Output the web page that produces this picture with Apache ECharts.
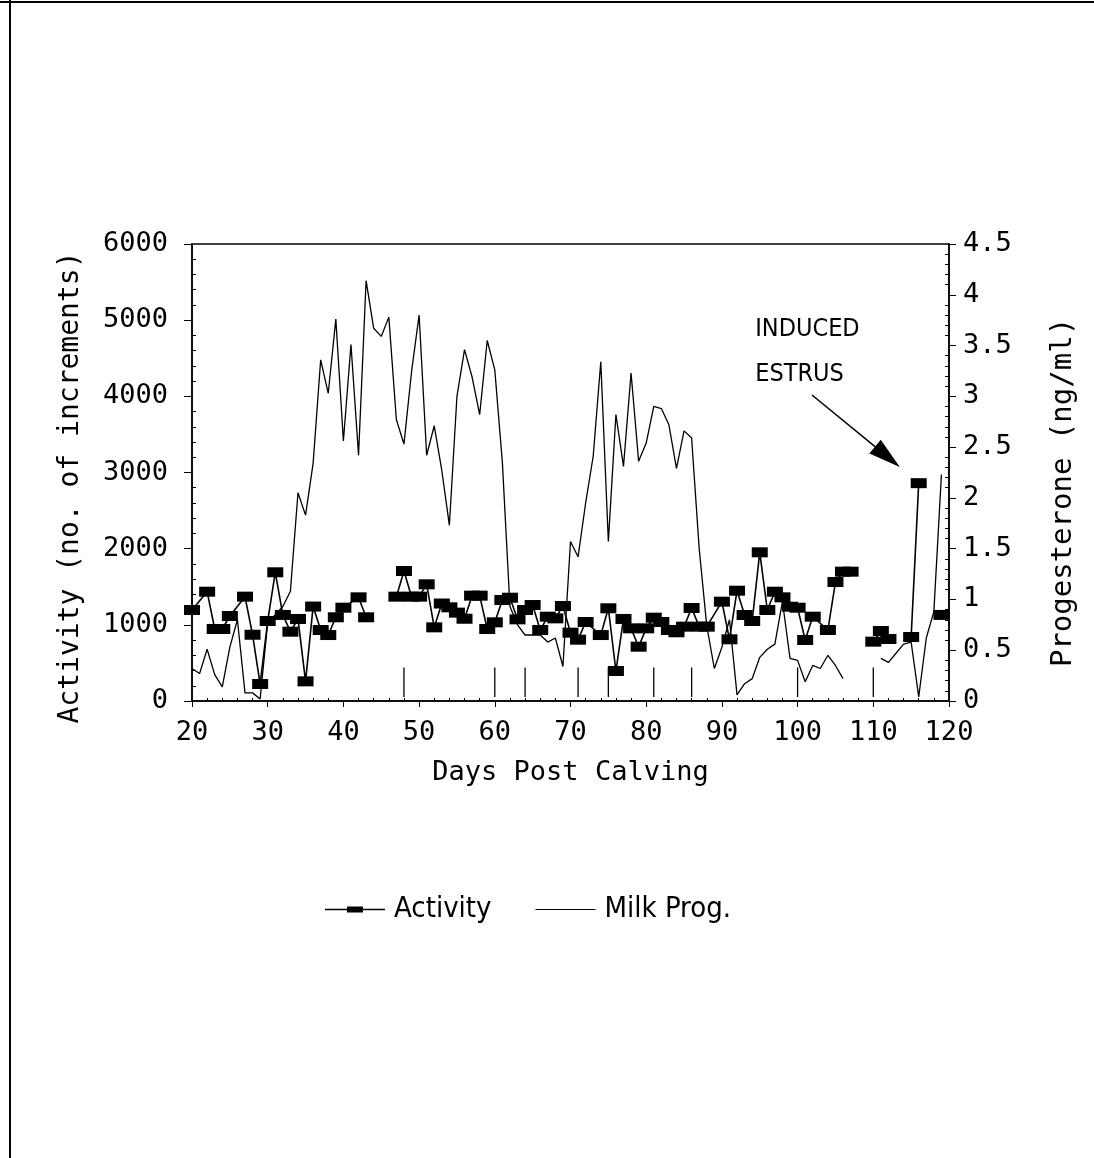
<!DOCTYPE html>
<html>
<head>
<meta charset="utf-8">
<script src="https://cdn.jsdelivr.net/npm/echarts@6/dist/echarts.min.js"></script>
<style>
  html, body { margin: 0; padding: 0; background: #fff; }
  #chart { width: 1094px; height: 1158px; }
</style>
</head>
<body>
<div id="chart"></div>
<script>
// Activity (no. of increments), one reading per day; null = gap in the record
const activityDays = [20, 22, 23, 24, 25, 27, 28, 29, 30, 31, 32, 33, 34, 35, 36, 37, 38, 39, 40, 42, 43, 44,
  47, 48, 49, 50, 51, 52, 53, 54, 55, 56, 57, 58, 59, 60, 61, 62, 63, 64, 65, 66, 67, 68, 69, 70,
  71, 72, 74, 75, 76, 77, 78, 79, 80, 81, 82, 83, 84, 85, 86, 87, 88, 90, 91, 92, 93, 94, 95, 96,
  97, 98, 99, 100, 101, 102, 104, 105, 106, 107, 108, 110, 111, 112, 113, 115, 116, 117, 119];
const activityValues = [1195, 1435, 945, 945, 1116, 1370, 870, 223, 1050, 1690, 1130, 910, 1077, 258, 1240, 932, 866, 1099, 1225, 1361, 1099, null,
  1370, 1707, 1370, 1370, 1532, 967, 1280, 1230, 1160, 1080, 1383, 1383, 945, 1033, 1326, 1356, 1072, 1195, 1260, 932, 1107, 1085, 1247, 897,
  805, 1037, 866, 1217, 394, 1077, 954, 713, 954, 1094, 1037, 932, 902, 976, 1221, 976, 976, 1304, 810, 1448, 1129, 1050, 1952, 1195,
  1435, 1361, 1238, 1225, 801, 1107, 932, 1562, 1698, 1698, null, 779, 919, 814, null, 840, 2860, null, 1130];

// Milk progesterone (ng/ml)
const progDays = [20, 21, 22, 23, 24, 25, 26, 27, 28, 29, 30, 31, 32, 33, 34, 35, 36, 37, 38, 39, 40, 41, 42, 43, 44, 45,
  46, 47, 48, 49, 50, 51, 52, 53, 54, 55, 56, 57, 58, 59, 60, 61, 62, 63, 64, 65, 66, 67, 68, 69, 70,
  71, 72, 73, 74, 75, 76, 77, 78, 79, 80, 81, 82, 83, 84, 85, 86, 87, 88, 89, 90, 91, 92, 93, 94, 95,
  96, 97, 98, 99, 100, 101, 102, 103, 104, 105, 106, 107, 111, 112, 113, 114, 115, 116, 117, 118, 119];
const progValues = [0.32, 0.27, 0.51, 0.26, 0.14, 0.53, 0.80, 0.08, 0.08, 0.02, 0.77, 0.85, 0.93, 1.08, 2.05, 1.83, 2.34, 3.36, 3.03, 3.76, 2.56, 3.51, 2.42, 4.14, 3.67, 3.59,
  3.78, 2.77, 2.53, 3.24, 3.80, 2.42, 2.71, 2.27, 1.73, 3.00, 3.46, 3.19, 2.82, 3.55, 3.26, 2.35, 0.93, 0.75, 0.65, 0.65, 0.65, 0.58, 0.62, 0.34, 1.57,
  1.42, 1.95, 2.41, 3.34, 1.57, 2.82, 2.31, 3.23, 2.36, 2.54, 2.90, 2.88, 2.72, 2.29, 2.66, 2.59, 1.50, 0.74, 0.32, 0.53, 0.80, 0.06, 0.17, 0.22, 0.43,
  0.51, 0.56, 0.98, 0.42, 0.40, 0.19, 0.35, 0.32, 0.45, 0.35, 0.22, null, 0.42, 0.38, 0.47, 0.56, 0.58, 0.04, 0.62, 0.88, 2.23];

// short vertical event marks along the bottom (progesterone scale)
const eventDays = [48, 60, 64, 71, 75, 81, 86, 100, 110];
const eventRange = [0.04, 0.33];

const annotationLines = ["INDUCED", "ESTRUS"];

function toPairs(days, values) {
  return days.map((d, i) => [d, values[i] === null ? "-" : values[i]]);
}

const eventData = [];
eventDays.forEach(d => {
  eventData.push([d, eventRange[0]], [d, eventRange[1]], [d, "-"]);
});

const monoFont = "'DejaVu Sans Mono', monospace";
const narrowFont = "'DejaVu Sans Condensed', 'Liberation Sans Narrow', sans-serif";

const chart = echarts.init(document.getElementById("chart"));

const option = {
  animation: false,
  backgroundColor: "#fff",
  grid: {
    left: 192,
    right: 145,
    top: 244,
    bottom: 457,
    show: true,
    borderColor: "#000",
    borderWidth: 1.5,
  },
  legend: {
    left: 320,
    top: 890,
    itemWidth: 60,
    itemHeight: 10,
    itemGap: 44,
    textStyle: {
      fontFamily: narrowFont,
      fontSize: 29,
      color: "#000",
      padding: [0, 0, 0, 4],
    },
    data: [
      { name: "Activity", icon: "path://M0,0L0.01,0M0,4.25h60v1.5H0zM22,2h16v6H22zM0,10L0.01,10" },
      { name: "Milk Prog.", icon: "path://M0,0L0.01,0M0,4.5h60v1H0zM0,10L0.01,10" },
    ],
  },
  xAxis: {
    type: "value",
    min: 20,
    max: 120,
    interval: 10,
    name: "Days Post Calving",
    nameLocation: "middle",
    nameGap: 58,
    nameTextStyle: { fontFamily: monoFont, fontSize: 27, color: "#000" },
    axisLine: { lineStyle: { color: "#000", width: 1.5 } },
    axisTick: { length: 6, lineStyle: { color: "#000" } },
    minorTick: { show: true, splitNumber: 5, length: -3, lineStyle: { color: "#000" } },
    axisLabel: { fontFamily: monoFont, fontSize: 27, color: "#000", margin: 18 },
    splitLine: { show: false },
  },
  yAxis: [
    {
      type: "value",
      min: 0,
      max: 6000,
      interval: 1000,
      position: "left",
      name: "Activity (no. of increments)",
      nameLocation: "middle",
      nameRotate: 90,
      nameGap: 107,
      nameTextStyle: { fontFamily: monoFont, fontSize: 28, color: "#000", padding: [0, 30, 0, 0] },
      axisLine: { show: true, lineStyle: { color: "#000", width: 1.5 } },
      axisTick: { show: true, length: 8, lineStyle: { color: "#000" } },
      minorTick: { show: true, splitNumber: 5, length: -4, lineStyle: { color: "#000" } },
      axisLabel: {
        fontFamily: monoFont, fontSize: 27, color: "#000", margin: 24,
        formatter: v => String(v),
      },
      splitLine: { show: false },
    },
    {
      type: "value",
      min: 0,
      max: 4.5,
      interval: 0.5,
      position: "right",
      name: "Progesterone (ng/ml)",
      nameLocation: "middle",
      nameRotate: 90,
      nameGap: 100,
      nameTextStyle: { fontFamily: monoFont, fontSize: 29, color: "#000", padding: [0, 40, 0, 0] },
      axisLine: { show: true, lineStyle: { color: "#000", width: 1.5 } },
      axisTick: { show: true, length: 7, lineStyle: { color: "#000" } },
      minorTick: { show: true, splitNumber: 5, length: -4, lineStyle: { color: "#000" } },
      axisLabel: { fontFamily: monoFont, fontSize: 27, color: "#000", margin: 14 },
      splitLine: { show: false },
    },
  ],
  series: [
    {
      name: "Milk Prog.",
      type: "line",
      yAxisIndex: 1,
      data: toPairs(progDays, progValues),
      showSymbol: false,
      symbol: "none",
      connectNulls: false,
      lineStyle: { color: "#000", width: 1.3 },
      itemStyle: { color: "#000" },
      z: 2,
    },
    {
      name: "events",
      type: "line",
      yAxisIndex: 1,
      data: eventData,
      symbol: "none",
      connectNulls: false,
      lineStyle: { color: "#000", width: 1.3 },
      silent: true,
      z: 2,
    },
    {
      name: "Activity",
      type: "line",
      yAxisIndex: 0,
      data: toPairs(activityDays, activityValues),
      symbol: "rect",
      symbolSize: [16, 10],
      showAllSymbol: true,
      connectNulls: false,
      lineStyle: { color: "#000", width: 1.6 },
      itemStyle: { color: "#000" },
      z: 3,
    },
  ],
};

chart.setOption(option);

// annotation placed in data coordinates
const textAt = [94.4, 4871];
const lineStep = 45;
const arrowFrom = chart.convertToPixel({ xAxisIndex: 0, yAxisIndex: 0 }, [101.9, 4018]);
const arrowTo = chart.convertToPixel({ xAxisIndex: 0, yAxisIndex: 0 }, [113.5, 3073]);
const textPos = chart.convertToPixel({ xAxisIndex: 0, yAxisIndex: 0 }, textAt);

const dx = arrowTo[0] - arrowFrom[0];
const dy = arrowTo[1] - arrowFrom[1];
const len = Math.sqrt(dx * dx + dy * dy);
const ux = dx / len, uy = dy / len;
const headLen = 32, headHalf = 9;
const baseX = arrowTo[0] - ux * headLen, baseY = arrowTo[1] - uy * headLen;

chart.setOption({
  graphic: [
    {
      type: "line",
      shape: { x1: 10, y1: 0, x2: 10, y2: 1158 },
      style: { stroke: "#000", lineWidth: 2 },
    },
    {
      type: "line",
      shape: { x1: 0, y1: 2, x2: 1094, y2: 2 },
      style: { stroke: "#000", lineWidth: 2 },
    },
    ...annotationLines.map((t, i) => ({
      type: "text",
      x: textPos[0],
      y: textPos[1] + i * lineStep,
      style: {
        text: t,
        fill: "#000",
        font: "25px " + narrowFont,
        verticalAlign: "middle",
      },
    })),
    {
      type: "line",
      shape: { x1: arrowFrom[0], y1: arrowFrom[1], x2: baseX, y2: baseY },
      style: { stroke: "#000", lineWidth: 1.5 },
    },
    {
      type: "polygon",
      shape: {
        points: [
          arrowTo,
          [baseX - uy * headHalf, baseY + ux * headHalf],
          [baseX + uy * headHalf, baseY - ux * headHalf],
        ],
      },
      style: { fill: "#000" },
    },
  ],
});
</script>
</body>
</html>
